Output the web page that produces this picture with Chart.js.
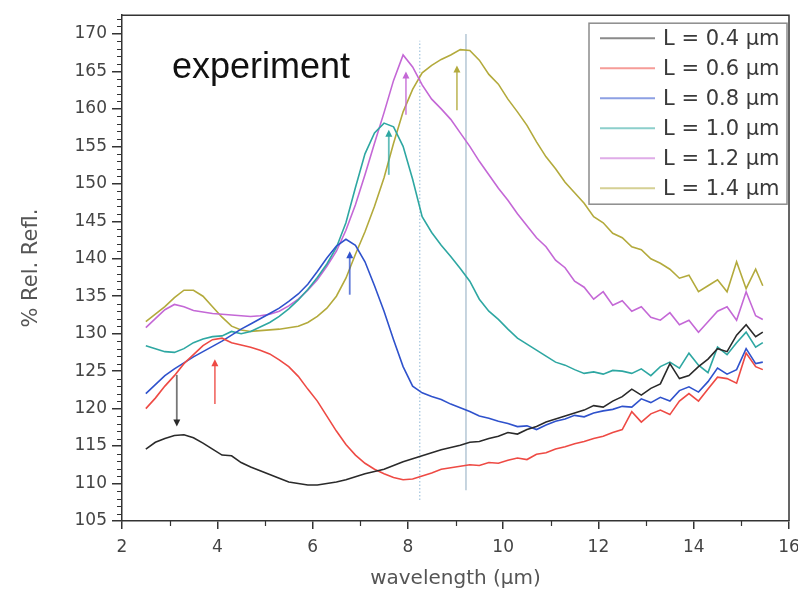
<!DOCTYPE html>
<html>
<head>
<meta charset="utf-8">
<script src="https://cdn.jsdelivr.net/npm/chart.js@4.4.1/dist/chart.umd.min.js"></script>
<style>
  html, body { margin: 0; padding: 0; background: #fff; }
  #wrap { width: 798px; height: 603px; }
</style>
</head>
<body>
<div id="wrap"><canvas id="reflChart" width="798" height="603"></canvas></div>
<script>
// wavelength grid (µm)
const wavelength = [2.5, 2.7, 2.9, 3.1, 3.3, 3.5, 3.7, 3.9, 4.1, 4.3,
  4.5, 4.7, 4.9, 5.1, 5.3, 5.5, 5.7, 5.9, 6.1, 6.3,
  6.5, 6.7, 6.9, 7.1, 7.3, 7.5, 7.7, 7.9, 8.1, 8.3,
  8.5, 8.7, 8.9, 9.1, 9.3, 9.5, 9.7, 9.9, 10.1, 10.3,
  10.5, 10.7, 10.9, 11.1, 11.3, 11.5, 11.7, 11.9, 12.1, 12.3,
  12.5, 12.7, 12.9, 13.1, 13.3, 13.5, 13.7, 13.9, 14.1, 14.3,
  14.5, 14.7, 14.9, 15.1, 15.3, 15.45];

// % relative reflectance, one array per L
const refl04 = [114.6, 115.5, 116.0, 116.4, 116.5, 116.1, 115.4, 114.6, 113.8, 113.7,
  112.8, 112.2, 111.7, 111.2, 110.7, 110.2, 110.0, 109.8, 109.8, 110.0,
  110.2, 110.5, 110.9, 111.3, 111.6, 111.9, 112.4, 112.9, 113.3, 113.7,
  114.1, 114.5, 114.8, 115.1, 115.5, 115.6, 116.0, 116.3, 116.8, 116.6,
  117.2, 117.6, 118.2, 118.6, 119.0, 119.4, 119.8, 120.4, 120.2, 121.0,
  121.6, 122.6, 121.8, 122.7, 123.3, 126.0, 124.0, 124.4, 125.6, 126.6,
  128.0, 127.6, 129.8, 131.2, 129.6, 130.2];
const refl06 = [120.0, 121.4, 123.0, 124.4, 126.0, 127.2, 128.4, 129.2, 129.4, 128.8,
  128.5, 128.2, 127.8, 127.3, 126.5, 125.6, 124.3, 122.6, 121.0, 119.0,
  117.0, 115.2, 113.8, 112.7, 111.9, 111.3, 110.8, 110.5, 110.6, 111.0,
  111.4, 111.9, 112.1, 112.3, 112.5, 112.4, 112.8, 112.7, 113.1, 113.4,
  113.2, 113.9, 114.1, 114.6, 114.9, 115.3, 115.6, 116.0, 116.3, 116.8,
  117.2, 119.6, 118.2, 119.3, 119.8, 119.2, 121.0, 122.0, 121.0, 122.6,
  124.2, 124.0, 123.4, 127.4, 125.6, 125.2];
const refl08 = [122.0, 123.2, 124.4, 125.3, 126.1, 126.9, 127.6, 128.3, 129.0, 129.8,
  130.6, 131.3, 132.0, 132.7, 133.4, 134.3, 135.3, 136.6, 138.3, 140.1,
  141.7, 142.6, 141.8, 139.6, 136.4, 133.0, 129.2, 125.6, 123.0, 122.1,
  121.6, 121.2, 120.6, 120.1, 119.6, 119.0, 118.7, 118.3, 118.0, 117.6,
  117.7, 117.2, 117.8, 118.3, 118.6, 119.1, 118.9, 119.4, 119.7, 119.9,
  120.3, 120.2, 121.3, 120.8, 121.5, 121.0, 122.4, 122.9, 122.2, 123.6,
  125.4, 124.6, 125.2, 128.0, 126.0, 126.2];
const refl10 = [128.4, 128.0, 127.6, 127.5, 128.0, 128.8, 129.3, 129.6, 129.7, 130.3,
  130.0, 130.3, 130.9, 131.5, 132.3, 133.3, 134.5, 135.9, 137.5, 139.3,
  141.5, 144.8, 149.5, 154.0, 156.8, 158.1, 157.6, 155.0, 150.6, 145.6,
  143.5, 141.8, 140.3, 138.7, 137.0, 134.6, 133.0, 131.9, 130.6, 129.4,
  128.6, 127.8, 127.0, 126.2, 125.8, 125.2, 124.7, 124.9, 124.6, 125.1,
  125.0, 124.7, 125.3, 124.4, 125.6, 126.2, 125.4, 127.4, 125.8, 124.8,
  128.2, 127.2, 128.8, 130.2, 128.2, 128.8];
const refl12 = [130.8, 132.0, 133.2, 133.9, 133.6, 133.1, 132.9, 132.7, 132.6, 132.5,
  132.4, 132.3, 132.4, 132.6, 133.0, 133.7, 134.6, 135.8, 137.2, 139.0,
  141.0, 143.8, 147.2, 151.2, 155.4, 159.5, 163.8, 167.2, 165.6, 163.2,
  161.3, 160.0, 158.6, 156.8, 155.0, 153.0, 151.2, 149.4, 147.8, 146.0,
  144.4, 142.8, 141.6, 139.8, 138.8, 137.0, 136.2, 134.6, 135.6, 133.8,
  134.4, 133.0, 133.6, 132.2, 131.8, 132.8, 131.2, 131.8, 130.2, 131.6,
  133.0, 133.6, 131.8, 135.6, 132.4, 131.9];
const refl14 = [131.6, 132.6, 133.6, 134.8, 135.8, 135.8, 135.0, 133.6, 132.2, 131.0,
  130.5, 130.3, 130.4, 130.5, 130.6, 130.8, 131.0, 131.5, 132.3, 133.4,
  135.0, 137.4, 140.6, 143.6, 147.0, 150.8, 155.4, 159.6, 162.6, 164.8,
  165.8, 166.6, 167.2, 167.9, 167.8, 166.5, 164.6, 163.3, 161.3, 159.6,
  157.8, 155.6, 153.6, 152.0, 150.2, 148.8, 147.4, 145.6, 144.8, 143.4,
  142.8, 141.6, 141.2, 140.0, 139.4, 138.6, 137.4, 137.8, 135.6, 136.4,
  137.2, 135.6, 139.6, 136.0, 138.6, 136.4];

const seriesLabels = ['L = 0.4 µm', 'L = 0.6 µm', 'L = 0.8 µm', 'L = 1.0 µm', 'L = 1.2 µm', 'L = 1.4 µm'];
const seriesColors = ['#2a2a2a', '#ee4a44', '#2f52cc', '#2ea7a2', '#c468d6', '#b3aa3c'];
const seriesData = [refl04, refl06, refl08, refl10, refl12, refl14];

// peak arrows: position, tail and head
const arrowX = [3.15, 3.95, 6.78, 7.6, 7.96, 9.03];
const arrowFrom = [124.5, 120.6, 135.2, 151.2, 159.2, 159.8];
const arrowTo = [117.6, 126.6, 141.0, 157.2, 165.0, 165.8];

// vertical guide lines (dotted, solid)
const guideX = [8.25, 9.22];
const guideFrom = [107.8, 109.1];
const guideTo = [169.1, 170.0];

const FONT = '"DejaVu Sans", Verdana, sans-serif';
const CAPTION_FONT = 'Arial, "Liberation Sans", sans-serif';

function toPoints(values) {
    return values.map(function (v, i) { return { x: wavelength[i], y: v }; });
}

function fade(hex, a) {
    const n = parseInt(hex.slice(1), 16);
    return 'rgba(' + (n >> 16) + ',' + ((n >> 8) & 255) + ',' + (n & 255) + ',' + a + ')';
}

// guide lines behind the curves
const guidePlugin = {
    id: 'guides',
    beforeDatasetsDraw(chart) {
        const ctx = chart.ctx, sx = chart.scales.x, sy = chart.scales.y;
        ctx.save();
        ctx.lineWidth = 1.2;
        guideX.forEach(function (gx, i) {
            ctx.strokeStyle = i === 0 ? 'rgba(130,175,210,0.75)' : 'rgba(150,175,195,0.9)';
            ctx.setLineDash(i === 0 ? [1.5, 2] : []);
            ctx.beginPath();
            ctx.moveTo(sx.getPixelForValue(gx), sy.getPixelForValue(guideFrom[i]));
            ctx.lineTo(sx.getPixelForValue(gx), sy.getPixelForValue(guideTo[i]));
            ctx.stroke();
        });
        ctx.restore();
    }
};

// arrows, frame, minor ticks, legend and caption
const overlayPlugin = {
    id: 'overlay',
    afterDatasetsDraw(chart) {
        const ctx = chart.ctx, sx = chart.scales.x, sy = chart.scales.y;
        ctx.save();
        arrowX.forEach(function (ax, i) {
            const px = sx.getPixelForValue(ax);
            const y0 = sy.getPixelForValue(arrowFrom[i]);
            const y1 = sy.getPixelForValue(arrowTo[i]);
            const dir = y1 > y0 ? 1 : -1;
            ctx.strokeStyle = i === 0 ? '#777' : fade(seriesColors[i], 0.75);
            ctx.lineWidth = 1.8;
            ctx.beginPath();
            ctx.moveTo(px, y0);
            ctx.lineTo(px, y1 - dir * 4);
            ctx.stroke();
            ctx.fillStyle = seriesColors[i];
            ctx.beginPath();
            ctx.moveTo(px, y1);
            ctx.lineTo(px - 3.5, y1 - dir * 7);
            ctx.lineTo(px + 3.5, y1 - dir * 7);
            ctx.closePath();
            ctx.fill();
        });
        ctx.restore();
    },
    afterDraw(chart) {
        const ctx = chart.ctx, area = chart.chartArea, sx = chart.scales.x, sy = chart.scales.y;
        ctx.save();
        ctx.strokeStyle = '#333';
        ctx.lineWidth = 1.5;
        // top and right frame
        ctx.beginPath();
        ctx.moveTo(area.left, area.top);
        ctx.lineTo(area.right, area.top);
        ctx.lineTo(area.right, area.bottom);
        ctx.stroke();
        // minor ticks
        ctx.lineWidth = 1.2;
        ctx.beginPath();
        for (let v = 106; v <= 172; v++) {
            if (v % 5 === 0) continue;
            const py = Math.round(sy.getPixelForValue(v)) + 0.5;
            ctx.moveTo(area.left - 5, py);
            ctx.lineTo(area.left, py);
        }
        for (let w = 3; w < 16; w += 2) {
            const px = Math.round(sx.getPixelForValue(w)) + 0.5;
            ctx.moveTo(px, area.bottom);
            ctx.lineTo(px, area.bottom + 5);
        }
        ctx.stroke();

        // legend box
        const bw = 198, rowH = 30;
        const bx = area.right - bw - 2, by = area.top + 8;
        ctx.fillStyle = '#fff';
        ctx.fillRect(bx, by, bw, rowH * 6 + 1);
        ctx.strokeStyle = '#8c8c8c';
        ctx.lineWidth = 1.5;
        ctx.strokeRect(bx, by, bw, rowH * 6 + 1);
        ctx.font = '21px ' + FONT;
        ctx.textBaseline = 'middle';
        seriesLabels.forEach(function (lab, i) {
            const cy = by + 15 + i * rowH;
            ctx.strokeStyle = fade(seriesColors[i], 0.55);
            ctx.lineWidth = 2;
            ctx.beginPath();
            ctx.moveTo(bx + 11, cy);
            ctx.lineTo(bx + 66, cy);
            ctx.stroke();
            ctx.fillStyle = '#3a3a3a';
            ctx.fillText(lab, bx + 74, cy + 1);
        });

        // caption
        ctx.fillStyle = '#111';
        ctx.font = '36px ' + CAPTION_FONT;
        ctx.textBaseline = 'alphabetic';
        ctx.fillText('experiment', area.left + 50, 78);
        ctx.restore();
    }
};

new Chart(document.getElementById('reflChart').getContext('2d'), {
    type: 'line',
    data: {
        datasets: seriesData.map(function (vals, i) {
            return {
                label: seriesLabels[i],
                data: toPoints(vals),
                borderColor: seriesColors[i],
                borderWidth: 1.6,
                pointRadius: 0,
                tension: 0,
                fill: false
            };
        })
    },
    options: {
        responsive: false,
        animation: false,
        layout: { padding: { top: 14, right: 9, left: 0, bottom: 0 } },
        plugins: {
            legend: { display: false },
            tooltip: { enabled: false }
        },
        scales: {
            x: {
                type: 'linear',
                min: 2,
                max: 16,
                ticks: { stepSize: 2, color: '#444', font: { family: FONT, size: 17 }, padding: 8, maxRotation: 0 },
                grid: { drawOnChartArea: false, tickLength: 8, color: '#333', lineWidth: 1.5 },
                border: { color: '#333', width: 1.5 },
                title: {
                    display: true,
                    text: 'wavelength (µm)',
                    color: '#555',
                    font: { family: FONT, size: 20 },
                    padding: { top: 0, bottom: 12 }
                },
                afterFit: function (scale) {
                    scale.height = 82;
                    scale.paddingLeft = 0;
                    scale.paddingRight = 0;
                }
            },
            y: {
                min: 105,
                max: 172.5,
                ticks: { stepSize: 5, includeBounds: false, color: '#444', font: { family: FONT, size: 17 }, padding: 5 },
                grid: { drawOnChartArea: false, tickLength: 10, color: '#333', lineWidth: 1.5 },
                border: { color: '#333', width: 1.5 },
                title: {
                    display: true,
                    text: '% Rel. Refl.',
                    color: '#555',
                    font: { family: FONT, size: 21 },
                    padding: { top: 19, bottom: 0 }
                },
                afterFit: function (scale) { scale.width = 122; }
            }
        }
    },
    plugins: [guidePlugin, overlayPlugin]
});
</script>
</body>
</html>
